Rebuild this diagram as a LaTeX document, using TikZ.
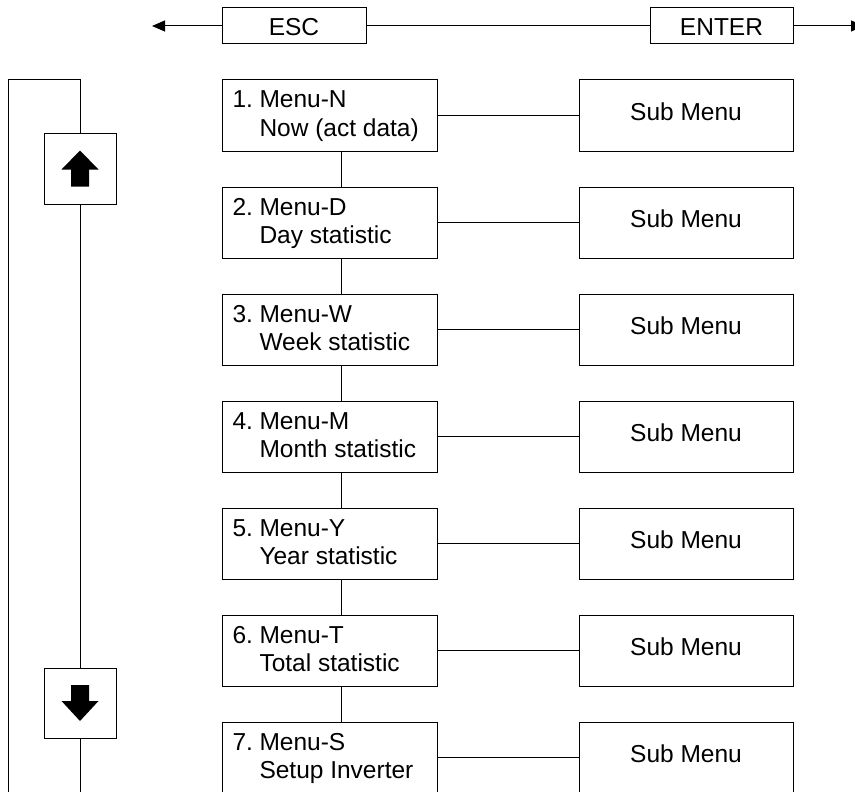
\documentclass[tikz,border=0pt]{standalone}
\usepackage{fontspec}
\setmainfont{Liberation Sans}
\usetikzlibrary{arrows.meta}
\begin{document}
\begin{tikzpicture}[x=1pt,y=-1pt,line width=1pt,
  box/.style={draw,inner sep=0pt,outer sep=0pt,anchor=north west},
  txt/.style={anchor=base west,inner sep=0pt,font=\fontsize{24.5}{29}\selectfont},
  ctxt/.style={anchor=base,inner sep=0pt,font=\fontsize{24.5}{29}\selectfont},
  tip/.style={-{Triangle[length=13pt,width=11pt]}}]
\useasboundingbox (0,0) rectangle (855,792);
% top keys
\node[box,minimum width=144pt,minimum height=36pt] (esc) at (222,8) {};
\node[ctxt] (esct) at (294,36) {ESC};
\node[box,minimum width=143pt,minimum height=36pt] (enter) at (650,8) {};
\node[ctxt] (entert) at (721.5,36) {ENTER};
\coordinate (escend) at (152,26);
\coordinate (entend) at (864,26);
\draw[tip] (esc.west) -- (escend);
\draw (esc.east) -- (enter.west);
\draw[tip] (enter.east) -- (entend);
% menus
\foreach \i/\a/\b [evaluate=\i as \y using 80+107*(\i-1)] in
  {1/Menu-N/Now (act data),2/Menu-D/Day statistic,3/Menu-W/Week statistic,
   4/Menu-M/Month statistic,5/Menu-Y/Year statistic,6/Menu-T/Total statistic,
   7/Menu-S/Setup Inverter}{
  \node[box,minimum width=215pt,minimum height=71pt] (m\i) at (222,\y) {};
  \node[txt] (m\i n) at (232,\y+28) {\i.};
  \node[txt] (m\i a) at (259,\y+28) {\a};
  \node[txt] (m\i b) at (259,\y+56) {\b};
  \node[box,minimum width=214pt,minimum height=71pt] (s\i) at (579,\y) {};
  \node[ctxt] (s\i t) at (686,\y+40.5) {Sub Menu};
  \draw (m\i.east) -- (s\i.west);
}
\foreach \i [evaluate=\i as \j using int(\i+1)] in {1,...,6}{
  \draw ([xshift=11.5pt]m\i.south) -- ([xshift=11.5pt]m\j.north);
}
% left bracket with arrow keys
\node[box,minimum width=72pt,minimum height=71pt] (up) at (44,133) {};
\node[box,minimum width=72pt,minimum height=70pt] (down) at (44,668) {};
\coordinate (bl) at (8.5,800);
\coordinate (tl) at (8.5,80);
\coordinate (tr) at (80,80);
\coordinate (br) at (80,800);
\draw (bl) -- (tl) -- (tr) -- (up.north);
\draw (up.south) -- (down.north);
\draw (down.south) -- (br);
\fill[shift={(up.center)}] (0,-18) -- (18.5,1) -- (9,1) -- (9,18) -- (-9,18) -- (-9,1) -- (-18.5,1) -- cycle;
\fill[shift={(down.center)}] (0,18) -- (18.5,-2) -- (9,-2) -- (9,-18) -- (-9,-18) -- (-9,-2) -- (-18.5,-2) -- cycle;
\end{tikzpicture}
\end{document}
